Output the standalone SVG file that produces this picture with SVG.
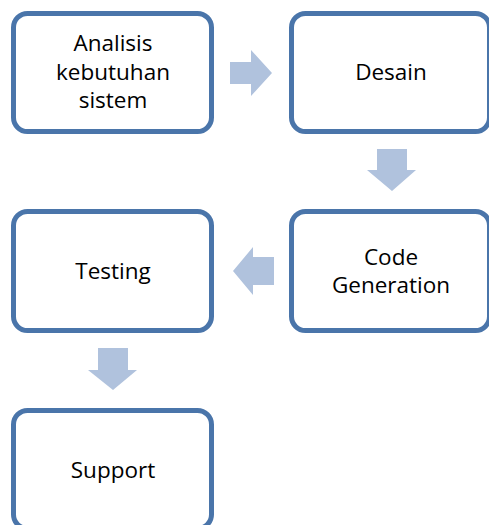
<svg xmlns="http://www.w3.org/2000/svg" width="489" height="525" viewBox="0 0 489 525">
<style>
.box{fill:#fff;stroke:#4a75aa;stroke-width:5}
.arr{fill:#b0c2dd}
text{font-family:"Open Sans","Liberation Sans",sans-serif;font-size:22.5px;fill:#000;text-anchor:middle}
</style>
<rect width="489" height="525" fill="#fff"/>
<g id="connectors">
<polygon class="arr" points="230,62 251,62 251,50 272,73 251,96 251,84 230,84"/>
<polygon class="arr" points="377,149 407,149 407,170 416,170 392,191 367,170 377,170"/>
<polygon class="arr" points="274,257 253,257 253,247 233,271 253,295 253,285 274,285"/>
<polygon class="arr" points="98,348 128,348 128,370 137,370 113,390 88,370 98,370"/>
</g>
<g id="n1"><rect class="box" x="13.5" y="13.5" width="198" height="118" rx="14"/>
<text x="113" y="51">Analisis</text><text x="113" y="80">kebutuhan</text><text x="113" y="108">sistem</text></g>
<g id="n2"><rect class="box" x="291.5" y="13.5" width="198" height="118" rx="14"/>
<text x="391" y="80">Desain</text></g>
<g id="n3"><rect class="box" x="291.5" y="211.5" width="198" height="119" rx="14"/>
<text x="391" y="265">Code</text><text x="391" y="293">Generation</text></g>
<g id="n4"><rect class="box" x="13.5" y="211.5" width="198" height="119" rx="14"/>
<text x="113" y="279">Testing</text></g>
<g id="n5"><rect class="box" x="13.5" y="410.5" width="198" height="118" rx="14"/>
<text x="113" y="478">Support</text></g>
</svg>
